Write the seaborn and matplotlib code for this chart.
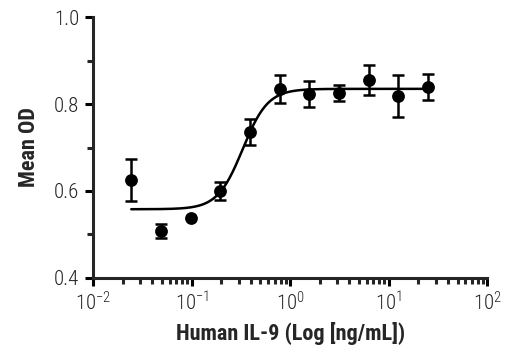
import numpy as np
import pandas as pd
import matplotlib
matplotlib.use("Agg")
import matplotlib.pyplot as plt
import matplotlib.ticker as mticker
from matplotlib import font_manager
import seaborn as sns

# Data
conc = [0.0244, 0.0488, 0.0977, 0.195, 0.391, 0.781, 1.5625, 3.125, 6.25, 12.5, 25.0]
mean_od = [0.625, 0.508, 0.538, 0.600, 0.736, 0.834, 0.823, 0.825, 0.855, 0.818, 0.839]
err_od = [0.048, 0.017, np.nan, 0.020, 0.030, 0.032, 0.030, 0.018, 0.034, 0.048, 0.030]

# 4-parameter logistic fit parameters (estimated from the drawn curve)
fit_bottom = 0.558
fit_top = 0.835
fit_ec50 = 0.33
fit_hill = 3.4

xticks = [0.01, 0.1, 1, 10, 100]
xtick_labels = ["10$^{-2}$", "10$^{-1}$", "10$^{0}$", "10$^{1}$", "10$^{2}$"]
yticks = [0.4, 0.6, 0.8, 1.0]
ytick_labels = ["0.4", "0.6", "0.8", "1.0"]

sns.set_style("ticks")
names = {f.name for f in font_manager.fontManager.ttflist}
fam = "Liberation Sans Narrow" if "Liberation Sans Narrow" in names else (
    "Roboto Condensed" if "Roboto Condensed" in names else "Liberation Sans")
plt.rcParams["font.family"] = [fam, "DejaVu Sans"]
plt.rcParams["mathtext.fontset"] = "custom"
plt.rcParams["mathtext.rm"] = fam + ":light"
plt.rcParams["mathtext.it"] = fam + ":light"

fig = plt.figure(figsize=(5.2, 3.5), dpi=100)
ax = fig.add_axes([0.179, 0.206, 0.758, 0.745])

xs = np.logspace(np.log10(conc[0]), np.log10(conc[-1]), 300)
curve = fit_bottom + (fit_top - fit_bottom) / (1 + (fit_ec50 / xs) ** fit_hill)
sns.lineplot(x=xs, y=curve, ax=ax, color="black", linewidth=1.8)

df = pd.DataFrame({"conc": conc, "od": mean_od, "err": err_od})
ax.errorbar(df["conc"], df["od"], yerr=df["err"], fmt="none", ecolor="black",
            elinewidth=1.8, capsize=4.3, capthick=1.8)
sns.scatterplot(data=df, x="conc", y="od", ax=ax, color="black", s=85,
                edgecolor="black", linewidth=0, zorder=5)

ax.set_xscale("log")
ax.set_xlim(0.01, 100)
ax.set_ylim(0.4, 1.0)
ax.set_xticks(xticks)
ax.set_xticklabels(xtick_labels)
ax.xaxis.set_minor_locator(mticker.LogLocator(base=10, subs=np.arange(2, 10)))
ax.xaxis.set_minor_formatter(mticker.NullFormatter())
ax.set_yticks(yticks)
ax.set_yticklabels(ytick_labels)
ax.yaxis.set_minor_locator(mticker.MultipleLocator(0.1))

for side in ["top", "right"]:
    ax.spines[side].set_visible(False)
for side in ["left", "bottom"]:
    ax.spines[side].set_linewidth(2.2)
ax.tick_params(axis="both", which="major", length=6, width=2.2, labelsize=15,
               direction="out", pad=4, colors="black")
ax.tick_params(axis="both", which="minor", length=4, width=2.2, direction="out")
for lab in ax.get_xticklabels() + ax.get_yticklabels():
    lab.set_color("#222222")
    lab.set_fontweight("light")

ax.set_xlabel("Human IL-9 (Log [ng/mL])", fontsize=16, fontweight="bold", labelpad=5)
ax.set_ylabel("Mean OD", fontsize=16, fontweight="bold", labelpad=10)

fig.savefig("out.png", dpi=100)
